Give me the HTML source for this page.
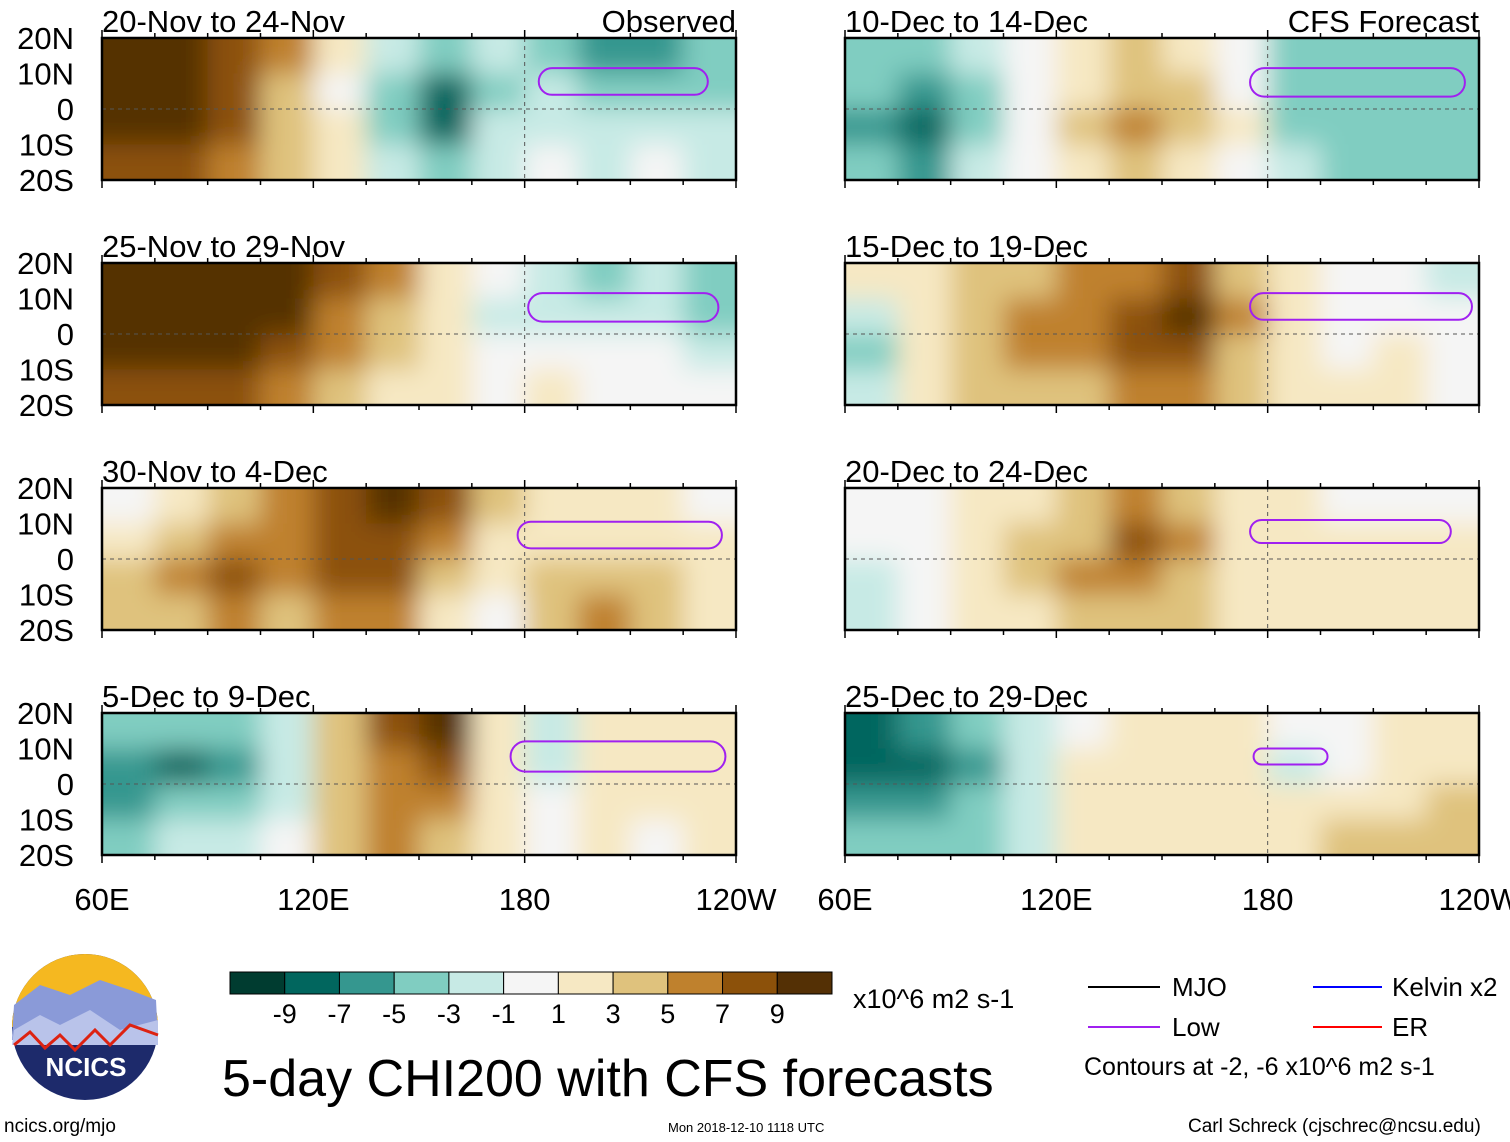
<!DOCTYPE html>
<html><head><meta charset="utf-8"><style>
body{margin:0;background:#fff;width:1510px;height:1142px;overflow:hidden;font-family:"Liberation Sans",sans-serif}
svg{display:block}
</style></head><body>
<svg id="chart" width="1510" height="1142" font-family="Liberation Sans, sans-serif">
<defs><filter id="blur" x="-10%" y="-10%" width="120%" height="120%"><feGaussianBlur stdDeviation="13"/></filter></defs>
<g id="panels"></g>
<g id="bottom">
<g>
<circle cx="85" cy="1027" r="73" fill="#1d2a6b"/>
<path d="M12,1027 A73,73 0 0 1 158,1027 Z" fill="#f5b820"/>
<path d="M14,1005 L40,985 L70,995 L100,980 L130,990 L156,1000 L158,1040 L12,1040 Z" fill="#8a9ad8"/>
<path d="M14,1030 L40,1015 L60,1025 L90,1010 L120,1030 L158,1020 L158,1045 L12,1045Z" fill="#b9c3ea"/>
<path d="M14,1045 L30,1032 L45,1048 L60,1035 L75,1050 L95,1030 L110,1045 L130,1025 L158,1035" stroke="#d21" stroke-width="3" fill="none"/>
<text x="86" y="1076" font-size="26" font-weight="bold" fill="#fff" text-anchor="middle">NCICS</text>
</g>
<text x="4" y="1132" font-size="19">ncics.org/mjo</text>
<text x="668" y="1132" font-size="13">Mon 2018-12-10 1118 UTC</text>
<text x="1188" y="1132" font-size="19">Carl Schreck (cjschrec@ncsu.edu)</text>
<text x="222" y="1096" font-size="52">5-day CHI200 with CFS forecasts</text>
<g id="cbar"></g>
<text x="853" y="1008" font-size="27">x10^6 m2 s-1</text>
<g>
<line x1="1088" y1="987" x2="1160" y2="987" stroke="#000" stroke-width="2"/><text x="1172" y="996" font-size="26">MJO</text>
<line x1="1313" y1="987" x2="1382" y2="987" stroke="#00f" stroke-width="2"/><text x="1392" y="996" font-size="26">Kelvin x2</text>
<line x1="1088" y1="1027" x2="1160" y2="1027" stroke="#a020f0" stroke-width="2"/><text x="1172" y="1036" font-size="26">Low</text>
<line x1="1313" y1="1027" x2="1382" y2="1027" stroke="#f00" stroke-width="2"/><text x="1392" y="1036" font-size="26">ER</text>
<text x="1084" y="1075" font-size="25">Contours at -2, -6 x10^6 m2 s-1</text>
</g>
</g>
</svg>
<script>
const NS="http://www.w3.org/2000/svg";
const colors=["#003c30","#01665e","#35978f","#80cdc1","#c7eae5","#f5f5f5","#f6e8c3","#dfc27d","#bf812d","#8c510a","#543005"];
const levels=[-9,-7,-5,-3,-1,1,3,5,7,9];
const cbarLabels=["-9","-7","-5","-3","-1","1","3","5","7","9"];
const titles=["20-Nov to 24-Nov","25-Nov to 29-Nov","30-Nov to 4-Dec","5-Dec to 9-Dec","10-Dec to 14-Dec","15-Dec to 19-Dec","20-Dec to 24-Dec","25-Dec to 29-Dec"];
const latLabels=["20N","10N","0","10S","20S"];
const lonLabels=["60E","120E","180","120W"];
// columns: 15-degree bins from 60E to 120W; each column = [20N-10N,10N-0,0-10S,10S-20S]
const chi1=[[10,10,10,8],[10,10,10,8],[8,8,8,6],[6,4,4,3],[2,0,2,2],[-2,-4,-4,-3],[-4,-8,-8,-5],[-3,-4,-3,-2],[-4,-3,-2,-1],[-6,-4,-3,-2],[-6,-4,-3,-1],[-5,-4,-3,-3]];
const chi2=[[10,10,10,8],[10,10,10,8],[10,10,10,8],[10,10,8,6],[8,6,6,4],[6,3,3,2],[2,1,2,1],[0,-2,0,0],[-2,-2,0,2],[-4,-2,0,0],[-3,-2,-1,0],[-5,-4,-2,-1]];
const chi3=[[0,2,4,4],[2,4,6,4],[4,6,8,6],[6,6,6,4],[8,8,8,6],[10,8,8,6],[8,6,4,2],[4,2,2,-1],[2,2,4,4],[2,2,4,6],[2,2,4,4],[0,2,2,2]];
const chi4=[[-4,-6,-6,-4],[-4,-8,-4,-2],[-4,-6,-4,-2],[-2,-2,-2,0],[4,4,4,4],[8,6,6,6],[10,8,6,4],[2,2,2,2],[-2,-2,0,0],[2,2,2,2],[2,2,2,0],[2,2,2,2]];
const chi5=[[-4,-4,-6,-4],[-4,-6,-8,-6],[-2,-4,-4,-2],[-1,0,0,0],[2,2,4,2],[4,4,6,4],[2,4,4,2],[0,0,2,0],[-4,-4,-4,-3],[-4,-4,-4,-4],[-5,-4,-4,-4],[-5,-4,-4,-4]];
const chi6=[[2,-2,-4,-2],[2,2,2,2],[4,4,4,4],[4,6,6,4],[6,6,6,4],[6,8,8,6],[8,10,8,6],[4,6,4,4],[2,2,2,2],[0,0,0,1],[0,0,1,1],[-2,0,0,0]];
const chi7=[[0,0,-2,-2],[0,0,0,0],[2,2,2,2],[2,4,4,2],[4,4,6,4],[6,8,6,4],[4,6,4,4],[2,2,2,2],[2,2,2,2],[0,2,2,2],[0,2,2,2],[0,2,2,2]];
const chi8=[[-8,-8,-6,-5],[-6,-8,-6,-4],[-4,-6,-5,-4],[-2,-2,-2,-2],[0,2,2,2],[2,2,2,2],[2,2,2,2],[2,2,2,2],[0,-2,2,2],[0,0,2,4],[2,2,2,4],[2,2,4,4]];
const chiAll=[chi1,chi2,chi3,chi4,chi5,chi6,chi7,chi8];
// Low contour extents: [lonStart, lonEnd(deg E), latNorth, latSouth]
const lowLoops=[[184,232,11.5,4],[181,235,11.5,3.5],[178,236,10.5,3],[176,237,12,3.5],[175,236,11.5,3.5],[175,238,11.5,4],[175,232,11,4.5],[176,197,10,5.5]];
const W=634,H=142;
const xs=[102,845], ys=[38,263,488,713];
function lonX(x0,lon){return x0+(lon-60)/180*W;}
function latY(y0,lat){return y0+(20-lat)/40*H;}
function colorFor(v){let i=0;while(i<levels.length&&v>=levels[i])i++;return colors[i];}
const G=document.getElementById('panels');
function el(t,a,p){const e=document.createElementNS(NS,t);for(const k in a)e.setAttribute(k,a[k]);(p||G).appendChild(e);return e;}
chiAll.forEach((data,pi)=>{
  const x0=xs[pi<4?0:1], y0=ys[pi%4];
  const g=el('g',{});
  
  
  const cp=el('clipPath',{id:'cp'+pi},g);
  el('rect',{x:x0,y:y0,width:W,height:H},cp);
  const inner=el('g',{'clip-path':'url(#cp'+pi+')'},g);
  const bl=el('g',{filter:'url(#blur)'},inner);
  const ncol=data.length;
  data.forEach((col,ci)=>{
    col.forEach((v,ri)=>{
      let lx=lonX(x0,60+ci*15), rx=lonX(x0,75+ci*15);
      let ty=latY(y0,20-ri*10), by=latY(y0,10-ri*10);
      if(ci===0)lx-=30; if(ci===ncol-1)rx+=30;
      if(ri===0)ty-=30; if(ri===3)by+=30;
      const r=el('rect',{x:lx,y:ty,width:rx-lx+1,height:by-ty+1,fill:colorFor(v)},bl);
      
      
    });
  });
  el('line',{x1:x0,x2:x0+W,y1:latY(y0,0),y2:latY(y0,0),stroke:'#555','stroke-dasharray':'4,4','stroke-width':1},inner);
  el('line',{x1:lonX(x0,180),x2:lonX(x0,180),y1:y0,y2:y0+H,stroke:'#555','stroke-dasharray':'4,4','stroke-width':1},inner);
  const L=lowLoops[pi];
  const lx=lonX(x0,L[0]),rx=lonX(x0,L[1]),ty=latY(y0,L[2]),by=latY(y0,L[3]);
  const lp=el('rect',{x:lx,y:ty,width:rx-lx,height:by-ty,rx:(by-ty)/2,fill:'none',stroke:'#a020f0','stroke-width':2},inner);
  
  
  const fr=el('rect',{x:x0,y:y0,width:W,height:H,fill:'none',stroke:'#000','stroke-width':2.5},g);
  
  
  for(let lon=60;lon<=240;lon+=15){const x=lonX(x0,lon);const big=(lon-60)%60===0?8:5;
    el('line',{x1:x,x2:x,y1:y0-big,y2:y0,stroke:'#000','stroke-width':1.5},g);
    el('line',{x1:x,x2:x,y1:y0+H,y2:y0+H+big,stroke:'#000','stroke-width':1.5},g);}
  const t=el('text',{x:x0,y:y0-6,'font-size':31},g);t.textContent=titles[pi];
  
  
  if(pi===0||pi===4){const t2=el('text',{x:x0+W,y:y0-6,'font-size':31,'text-anchor':'end'},g);t2.textContent=pi===0?'Observed':'CFS Forecast';
    
    }
  if(pi<4){latLabels.forEach((s,i)=>{const tl=el('text',{x:74,y:latY(y0,20-i*10)+11,'font-size':31,'text-anchor':'end'},g);tl.textContent=s;
    
    });}
  if(pi%4===3){lonLabels.forEach((s,i)=>{const tl=el('text',{x:lonX(x0,60+i*60),y:910,'font-size':31,'text-anchor':'middle'},g);tl.textContent=s;
    
    });}
});
const cb=document.getElementById('cbar');
const cbw=602/11;
colors.forEach((c,i)=>{const r=el('rect',{x:230+i*cbw,y:972,width:cbw,height:22,fill:c,stroke:'#000','stroke-width':1},cb);
  
  });
cbarLabels.forEach((s,i)=>{const t=el('text',{x:230+(i+1)*cbw,y:1023,'font-size':27,'text-anchor':'middle'},cb);t.textContent=s;
  
  });
</script>
</body></html>
